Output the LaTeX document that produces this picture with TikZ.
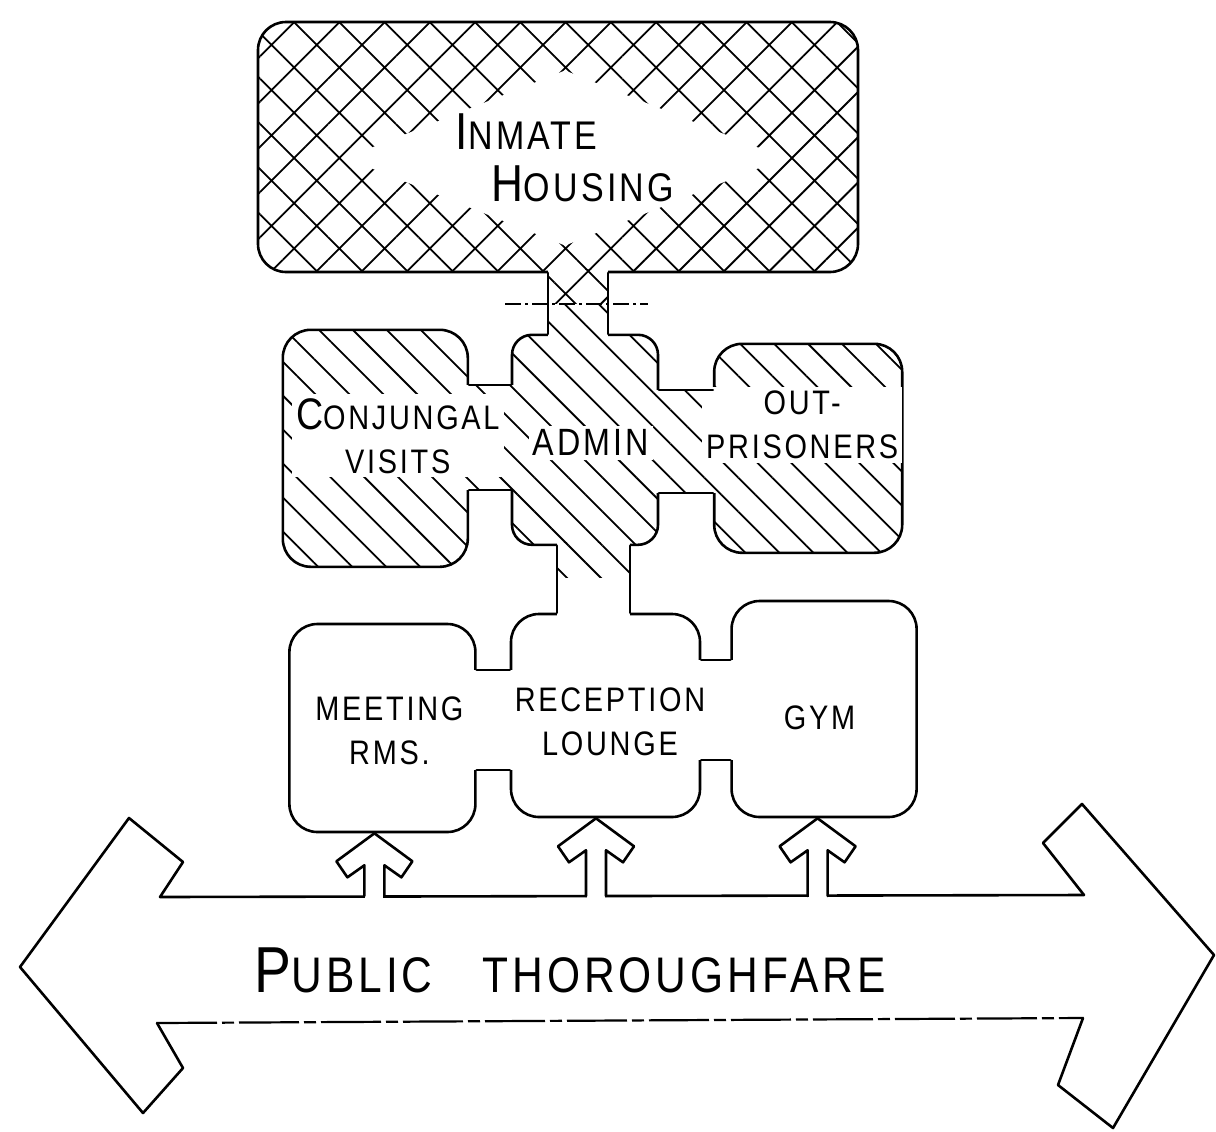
\documentclass[tikz,border=0pt]{standalone}
\usepackage{fontspec}
\setmainfont{Liberation Sans}[FakeStretch=0.85,LetterSpace=8]
\usetikzlibrary{positioning,calc,patterns.meta,shapes.geometric}
\tikzset{room/.style={rectangle, rounded corners=14pt, inner sep=0pt, draw=black, line width=1.3pt},
hatched/.style={pattern={Lines[angle=-45,distance=12pt,line width=0.9pt]}},
crossed/.style={pattern={Hatch[angle=45,distance=16pt,line width=0.9pt]}},
link/.style={preaction={fill=white}},
wall/.style={line width=1.3pt, line join=round, line cap=round},
tag/.style={fill=white, inner sep=2pt, align=center, font=\fontsize{17}{22}\selectfont}}
\newcommand{\firstcap}[1]{\scalebox{1.3}{#1}}
% block arrow from the road up to a room
\newcommand{\gatearrow}[2]{
\coordinate (tip) at ([xshift=#2]#1.south);
\fill[white] ($(tip)+(-9,32)$) rectangle ($(tip |- roadtop)+(9,4)$);
\draw[wall] ($(tip |- roadtop)+(-10,0)$) -- ($(tip)+(-10,32)$) -- ($(tip)+(-27,44)$) -- ($(tip)+(-38,28)$) -- (tip)
 -- ($(tip)+(38,28)$) -- ($(tip)+(27,44)$) -- ($(tip)+(10,32)$) -- ($(tip |- roadtop)+(10,0)$);
}
\begin{document}
\begin{tikzpicture}[x=0.5pt, y=-0.5pt]
\useasboundingbox (0,0) rectangle (1216,1131);
% rooms
\node (house) [room, crossed, minimum width=300pt, minimum height=125pt] at (558,147) {};
\node (admin) [room, hatched, rounded corners=10pt, minimum width=73pt, minimum height=105pt, below=30.5pt of house, xshift=13.5pt] {};
\node (conj) [room, hatched, minimum width=92.5pt, minimum height=118.5pt, left=21pt of admin, yshift=-4.25pt] {};
\node (outp) [room, hatched, minimum width=94pt, minimum height=104.5pt, right=27pt of admin, yshift=-4.25pt] {};
\node (recep) [room, minimum width=94.5pt, minimum height=101.5pt, below=33.5pt of admin, xshift=10.25pt] {};
\node (meet) [room, minimum width=93pt, minimum height=104pt, left=16.5pt of recep, yshift=-6.25pt] {};
\node (gym) [room, minimum width=92.5pt, minimum height=108pt, right=14.5pt of recep, yshift=3.25pt] {};
% link fills
\path[link, crossed] ($(house.south -| admin.north)+(-18.5pt,1.5pt)$) rectangle ($(admin.north)+(11.5pt,15pt)$);
\path[link, hatched] ($(admin.north)+(-18.5pt,15pt)$) rectangle ($(admin.north)+(11.5pt,-1.5pt)$);
\path[link, hatched] ($(conj.east |- 0,385)+(-1.5pt,0)$) rectangle ($(admin.west |- 0,490)+(1.5pt,0)$);
\path[link, hatched] ($(admin.east |- 0,390)+(-1.5pt,0)$) rectangle ($(outp.west |- 0,493)+(1.5pt,0)$);
\path[link, hatched] ($(admin.south)+(-14pt,1.5pt)$) rectangle ($(admin.south)+(22.5pt,-16pt)$);
\fill[white] ($(admin.south)+(-14pt,-16pt)$) rectangle ($(recep.north -| admin.south)+(22.5pt,-1.5pt)$);
\fill[white] ($(meet.east |- 0,670)+(-1.5pt,0)$) rectangle ($(recep.west |- 0,770)+(1.5pt,0)$);
\fill[white] ($(recep.east |- 0,660)+(-1.5pt,0)$) rectangle ($(gym.west |- 0,760)+(1.5pt,0)$);
% labels
\node (lbl-house) [tag, shape=diamond, aspect=2.5, inner sep=0pt, align=left, font=\fontsize{20}{26}\selectfont, xshift=3.5pt, yshift=-5.5pt] at (house) {\firstcap{I}NMATE\\\hspace{0.9em}\firstcap{H}OUSING};
\node (lbl-admin) [tag, font=\fontsize{19}{22}\selectfont, xshift=3pt, yshift=-1.5pt] at (admin) {ADMIN};
\node (lbl-conj) [tag, xshift=11.25pt, yshift=6.25pt] at (conj) {\firstcap{C}ONJUNGAL\\VISITS};
\node (lbl-outp) [tag, xshift=-3pt, yshift=11.75pt] at (outp) {OUT-\\PRISONERS};
\node (lbl-meet) [tag, xshift=3.5pt, yshift=-1.5pt] at (meet) {MEETING\\RMS.};
\node (lbl-recep) [tag, xshift=2.25pt, yshift=-3.25pt] at (recep) {RECEPTION\\LOUNGE};
\node (lbl-gym) [tag, xshift=-2.25pt, yshift=-4.5pt] at (gym) {GYM};
% link walls
\draw[wall] ($(house.south -| admin.north)+(-18.5pt,0)$) -- ($(admin.north)+(-18.5pt,0)$);
\draw[wall] ($(house.south -| admin.north)+(11.5pt,0)$) -- ($(admin.north)+(11.5pt,0)$);
\draw[line width=1pt, dash pattern=on 8pt off 2pt on 1.5pt off 2pt] ($(admin.north)+(-40pt,15pt)$) -- ($(admin.north)+(31.5pt,15pt)$);
\draw[wall] (conj.east |- 0,385) -- (admin.west |- 0,385);
\draw[wall] (conj.east |- 0,490) -- (admin.west |- 0,490);
\draw[wall] (admin.east |- 0,390) -- (outp.west |- 0,390);
\draw[wall] (admin.east |- 0,493) -- (outp.west |- 0,493);
\draw[wall] ($(admin.south)+(-14pt,0)$) -- ($(recep.north -| admin.south)+(-14pt,0)$);
\draw[wall] ($(admin.south)+(22.5pt,0)$) -- ($(recep.north -| admin.south)+(22.5pt,0)$);
\draw[wall] (meet.east |- 0,670) -- (recep.west |- 0,670);
\draw[wall] (meet.east |- 0,770) -- (recep.west |- 0,770);
\draw[wall] (recep.east |- 0,660) -- (gym.west |- 0,660);
\draw[wall] (recep.east |- 0,760) -- (gym.west |- 0,760);
% public thoroughfare
\coordinate (roadtop) at (600,896);
\draw[wall] (1084,895) -- (160,897) -- (183,862) -- (129,818) -- (20,967) -- (143,1113) -- (183,1068) -- (157,1023);
\draw[wall] (1083,1018) -- (1058,1085) -- (1113,1128) -- (1214,955) -- (1082,804) -- (1043,843) -- (1084,895);
\draw[line width=1.1pt, dash pattern=on 30pt off 2.5pt on 6pt off 2.5pt] (157,1023) -- (1083,1018);
\node (road) [font=\fontsize{25}{30}\selectfont] at (570,970) {\firstcap{P}UBLIC\hspace{1em}THOROUGHFARE};
\gatearrow{meet}{-4pt}
\gatearrow{recep}{-4.75pt}
\gatearrow{gym}{-3.25pt}
\end{tikzpicture}
\end{document}
